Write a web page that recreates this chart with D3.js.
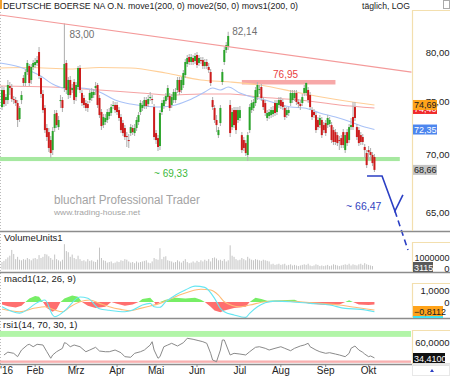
<!DOCTYPE html>
<html><head><meta charset="utf-8">
<script src="https://cdn.jsdelivr.net/npm/d3@7"></script>
<style>body{margin:0;background:#fff}svg{display:block;font-family:"Liberation Sans",Arial,sans-serif}</style>
</head><body><svg id="c" width="450" height="376"></svg>
<script>
// ---------------- DATA ----------------
const openP=[74.49,76.15,75.17,75.17,76.55,76.35,75.27,75.17,74.88,73.34,
75.17,77.35,76.85,77.95,78.56,77.15,78.46,78.66,78.87,80.00,
77.35,75.76,74.40,72.49,72.11,71.37,70.45,72.49,73.92,72.58,
75.07,75.17,76.35,78.87,75.66,77.15,76.15,76.95,75.46,76.45,
78.36,75.86,75.37,74.88,74.78,75.17,75.37,75.66,76.35,76.65,
75.37,74.01,72.77,73.06,73.25,73.63,73.92,74.59,74.69,74.69,
74.20,73.53,72.96,72.49,71.74,71.37,72.02,72.49,72.02,72.49,
73.06,74.01,74.40,74.59,75.17,74.78,75.44,75.27,74.49,72.02,
71.55,70.82,74.01,74.59,75.07,75.46,75.56,74.69,75.17,75.17,
76.15,77.15,76.15,76.65,77.65,78.77,79.48,78.97,79.38,79.07,
79.69,78.87,79.17,79.17,78.56,78.97,78.46,77.95,75.17,74.40,
73.25,71.83,72.96,76.95,78.97,80.21,80.52,74.69,72.58,74.20,
74.20,73.25,73.44,71.83,71.37,71.09,70.00,72.30,74.20,74.40,
74.88,75.46,76.15,76.45,75.17,74.88,73.44,73.63,73.72,73.82,
74.88,74.01,74.69,75.17,74.98,74.40,73.72,73.92,74.88,75.17,
75.37,75.86,74.98,74.78,74.88,75.86,75.86,76.15,75.66,74.20,
74.01,73.72,73.25,72.77,73.25,72.77,72.96,72.77,72.87,72.77,
72.30,72.11,71.83,71.37,71.55,72.11,70.45,72.11,71.37,72.58,
73.53,74.49,72.58,72.30,71.83,71.65,70.73,70.18,70.45,70.27,
70.00,69.82];
const closeP=[76.15,74.78,75.46,76.65,76.35,75.27,75.17,74.88,73.25,74.40,
75.66,76.85,77.95,78.87,76.85,78.46,78.87,78.97,79.17,77.55,
75.76,74.20,72.30,71.65,70.64,70.18,72.21,73.82,72.77,73.25,
75.17,74.40,78.77,76.15,77.15,75.66,76.35,75.17,76.65,78.36,
76.15,74.88,74.69,74.40,74.40,75.86,75.96,75.96,76.55,74.69,
73.72,72.68,73.53,73.44,74.01,74.01,74.49,74.69,74.20,74.01,
73.44,72.30,72.02,71.65,71.65,71.28,72.58,72.11,72.49,73.25,
73.72,74.88,74.69,75.17,74.59,75.27,75.46,75.17,71.65,71.37,
70.73,73.92,74.88,75.17,75.56,76.35,74.40,75.46,75.96,75.96,
77.15,75.96,77.15,77.85,78.97,79.38,78.97,79.48,78.97,79.59,
78.66,79.38,79.07,78.56,78.97,78.56,78.15,76.85,74.49,73.25,
72.77,72.30,74.40,77.95,80.21,80.73,81.68,72.02,74.01,72.77,
72.30,74.20,74.20,70.45,70.64,70.18,71.83,74.49,74.88,74.98,
76.15,76.65,76.25,75.37,74.49,73.92,73.92,74.01,74.20,74.20,
73.92,74.88,75.17,74.59,74.49,73.53,74.20,74.20,75.86,75.86,
75.86,74.98,74.78,74.59,75.46,76.35,76.85,75.17,74.49,73.53,
73.72,72.30,72.58,73.44,71.83,72.30,72.02,73.44,73.25,71.37,
71.19,71.19,71.09,71.28,70.91,70.91,71.83,71.09,72.58,72.77,
72.58,73.44,71.65,71.09,71.19,71.19,70.45,69.09,70.27,70.00,
69.27,68.66];
const highP=[76.55,76.45,75.76,77.15,76.95,76.75,75.56,75.46,75.17,74.59,
76.05,77.65,78.26,79.17,78.77,78.77,79.17,79.38,79.59,80.52,
77.55,76.15,74.69,72.87,72.49,71.74,72.58,74.20,74.20,73.63,
75.66,75.46,83.00,79.17,77.45,77.55,76.75,77.25,76.95,78.56,
78.66,76.15,75.66,75.17,75.07,76.15,76.35,76.25,76.95,76.85,
75.66,74.30,73.82,73.82,74.30,74.40,74.78,75.07,74.98,74.98,
74.49,73.82,73.25,72.77,72.11,71.93,72.87,72.77,72.87,73.53,
74.01,75.17,75.07,75.46,75.46,75.66,75.96,75.66,74.78,72.30,
71.83,74.20,75.17,75.46,75.86,76.65,75.86,75.76,76.25,76.35,
77.45,77.45,77.45,78.15,79.28,79.69,79.79,79.79,79.69,79.90,
80.00,79.69,79.48,79.48,79.28,79.28,78.87,78.26,75.46,74.69,
73.72,72.58,74.69,78.26,80.52,81.04,82.14,75.17,74.40,74.49,
74.49,74.49,74.59,72.11,71.65,71.37,72.11,74.78,75.17,75.27,
76.45,76.95,76.65,76.75,75.46,75.17,74.20,74.30,74.49,74.59,
75.17,75.17,75.46,75.46,75.27,74.69,74.49,74.49,76.15,76.15,
76.15,76.15,75.27,75.17,75.76,76.65,76.95,76.45,75.96,74.49,
74.30,74.01,73.53,73.72,73.53,73.06,73.25,73.72,73.53,73.06,
72.58,72.39,72.11,71.74,71.83,72.39,72.11,72.39,72.87,73.44,
74.98,74.98,72.87,72.58,72.11,71.93,71.00,70.45,70.82,70.64,
70.27,70.09];
const lowP=[74.20,74.49,74.59,74.78,75.66,74.98,74.78,74.59,72.58,73.06,
74.78,76.55,76.55,77.65,76.55,76.75,78.15,78.36,78.56,77.25,
75.37,73.92,72.02,71.28,70.27,69.73,70.00,72.11,72.49,72.30,
74.40,74.01,75.96,75.76,75.27,75.37,75.86,74.78,75.07,76.15,
75.86,74.59,74.40,74.11,74.01,74.88,75.07,75.37,75.66,74.40,
73.44,72.30,72.49,72.77,72.96,73.34,73.63,74.30,73.92,73.72,
73.15,72.02,71.74,71.37,70.73,70.64,71.74,71.83,71.74,72.21,
72.77,73.72,74.11,74.30,74.30,74.49,75.07,74.78,71.37,71.00,
70.36,70.45,73.72,74.30,74.78,75.17,74.11,74.40,74.88,74.88,
75.86,75.66,75.86,76.35,77.35,78.46,78.66,78.66,78.66,78.77,
78.36,78.56,78.77,78.26,78.26,78.26,77.85,76.55,74.20,72.96,
72.11,71.55,72.68,76.65,78.66,79.90,80.21,71.65,72.30,72.49,
71.93,72.96,73.15,70.18,70.36,69.91,69.45,72.02,73.92,74.11,
74.59,75.17,75.76,75.07,74.20,73.63,73.15,73.34,73.44,73.53,
73.63,73.72,74.40,74.30,74.20,73.25,73.44,73.63,74.59,74.88,
75.07,74.69,74.40,74.20,74.59,75.56,75.56,74.88,74.20,73.25,
73.44,72.02,72.30,72.49,71.55,72.02,71.74,72.49,72.58,71.09,
70.91,70.91,70.82,70.45,70.64,70.64,70.18,70.82,71.09,72.30,
72.30,73.15,71.37,70.82,70.91,70.91,69.73,68.82,69.54,69.54,
69.00,68.47];
const volume=[650000,750000,900000,1050000,1200000,1700000,1350000,900000,1100000,850000,
800000,900000,850000,1000000,900000,800000,950000,1000000,900000,1250000,
1000000,1100000,1350000,1300000,1150000,1000000,850000,1300000,900000,800000,
700000,850000,2200000,1600000,1500000,1100000,1300000,1000000,900000,1200000,
900000,750000,800000,700000,900000,750000,800000,700000,650000,850000,
1900000,1000000,800000,750000,600000,650000,700000,550000,600000,700000,
650000,800000,750000,900000,850000,700000,600000,650000,550000,700000,
600000,650000,700000,750000,800000,600000,550000,700000,1000000,900000,
850000,1850000,900000,1100000,1150000,800000,750000,700000,600000,650000,
800000,700000,600000,750000,900000,650000,550000,600000,700000,600000,
750000,650000,800000,700000,850000,750000,900000,700000,1000000,1050000,
950000,800000,850000,750000,900000,700000,800000,2100000,1200000,1100000,
900000,800000,850000,1000000,900000,800000,1100000,950000,850000,800000,
900000,850000,800000,750000,850000,800000,750000,700000,450000,500000,
400000,450000,500000,400000,450000,500000,350000,400000,450000,350000,
400000,350000,300000,350000,400000,450000,400000,500000,350000,300000,
350000,450000,400000,300000,350000,300000,350000,400000,300000,350000,
450000,400000,350000,300000,350000,400000,450000,400000,500000,350000,
450000,400000,350000,450000,500000,400000,550000,450000,400000,350000,
300000,3115];

// moving averages (sampled)
const move1Idx=[-1,14,35,50,66,84,102,117,132,153,173,191];
const move1=[78.36,78.41,78.26,78.41,78.36,77.85,77.15,76.95,76.65,75.86,75.17,74.69];
const move2Idx=[-1,9,19,27,32,40,50,58,66,73,81,89,96,104,108,112,116,122,130,135,140,148,155,163,171,179,186,191];
const move2=[78.87,78.46,77.65,76.65,76.35,76.35,75.96,75.17,74.78,74.59,74.49,74.69,75.17,75.96,76.35,76.15,76.45,75.86,75.37,75.17,74.88,74.49,74.40,73.92,73.53,73.06,72.58,72.35];
const movs1Idx=[-1,25,50,71,86,102,117,132,153,173,191];
const movs1=[76.55,76.45,76.15,75.86,75.66,75.76,75.76,75.46,75.17,74.69,74.40];

// annotations
const trendIdx=[-1,210], trendVal=[83.93,77.94];
const supportBand=[69.45,69.82], supportIdx=[-1,204], supportLabel=69.33;
const resistBand=[76.70,77.15], resistIdx=[123,171], resistLabel=76.95;
const projIdx=[187.2,194.9,201.5,205.6], projVal=[68.12,68.12,65.09,66.47];
const projDashIdx=[201.5,208.2], projDashVal=[65.09,61.88];
const projLabel=66.47;

// MACD (sampled)
const macdIdx=[0,9,19,22,26,27,32,40,44,50,55,63,67,72,76,78,81,84,89,94,99,104,109,112,114,119,125,127,131,135,140,148,158,168,176,184,191];
const macdVal=[-0.39,-0.92,0.03,0.17,-1.08,-1.22,-0.75,0.42,0.31,-0.56,-0.69,-0.81,-0.67,-0.25,-0.11,-0.39,-0.44,0.03,0.58,1.0,1.33,1.22,0.31,-0.53,-0.81,-1.08,-1.28,-0.94,-0.39,-0.06,0.08,0.03,-0.11,-0.25,-0.53,-0.61,-0.81];
const sigIdx=[0,9,17,22,27,31,35,40,45,50,55,61,66,71,76,81,86,91,96,102,107,111,114,122,127,135,143,153,163,173,181,191];
const sigVal=[-0.58,-0.81,-0.5,-0.39,-0.67,-0.81,-0.39,0.03,0.17,-0.11,-0.39,-0.61,-0.72,-0.53,-0.33,-0.11,0.22,0.58,0.86,1.06,1.0,0.58,0.03,-0.39,-0.25,0.03,0.08,0.03,-0.11,-0.25,-0.44,-0.67];
const histIdx=[0,3,7,10,12,14,17,19,21,23,26,28,30,32,36,39,41,44,48,53,56,59,63,67,70,72,76,78,79,81,84,89,94,99,102,104,107,109,112,114,119,125,127,130,133,136,143,150,153,158,166,173,176,178,180,183,188,191];
const histVal=[-0.2,-0.35,-0.45,-0.3,0,0.3,0.5,0.45,0,-0.5,-0.8,-0.6,0,0.3,0.55,0.45,0,-0.3,-0.5,-0.4,0,-0.15,-0.3,-0.2,0,0.25,0.35,0,-0.25,0,0.2,0.35,0.3,0.35,0.2,0,-0.4,-0.7,-0.85,-0.7,-0.5,-0.4,0,0.35,0.25,0.1,0.15,0.2,0,-0.15,-0.25,-0.2,0,0.15,0,-0.2,-0.25,-0.2];
const macdLabel=-0.8112;

// RSI (sampled)
const rsiIdx=[1,3,6,8,10,13,14,16,18,21,23,25,26,28,31,32,33,35,37,40,43,45,48,50,53,55,58,61,63,66,68,71,73,76,77,78,80,81,83,85,87,90,93,95,98,101,103,105,107,108,110,112,113,114,116,117,119,122,125,127,130,132,135,137,140,143,145,148,150,153,155,157,158,161,163,166,168,171,173,176,178,179,181,183,185,186,188,189,191];
const rsiVal=[39.3,44.1,42.1,36.4,47.7,56.2,57.4,53.3,57.4,56.2,44.8,33.7,39.3,44.8,50.6,60.1,59.1,53.3,56.2,53.3,44.8,47.7,52.3,46.0,44.8,44.8,47.7,43.2,36.4,35.4,42.1,44.8,47.7,56.2,61.8,47.7,33.7,36.4,53.3,56.2,59.1,54.5,60.1,67.6,65.9,63.5,61.8,59.1,42.1,30.8,27.9,47.7,64.7,64.7,47.7,39.3,42.1,40.9,39.3,44.8,52.3,53.3,50.6,47.7,50.6,53.3,50.6,46.5,50.6,54.5,56.2,59.1,53.3,47.7,44.8,42.1,43.2,40.9,39.3,36.4,42.1,50.6,54.5,47.7,43.8,40.9,36.4,37.6,34.41];
const rsiUpper=[70,80], rsiLower=[26,30];

// axis ticks
const monthLabels=["'16","Feb","Mrz","Apr","Mai","Jun","Jul","Aug","Sep","Okt"];
const monthIdx=[2,17,38,59,79,100,122,143,166,188];
const priceTicks=[80,75,70,65];
const volTicks=[1000000,0];
const macdTicks=[1,0];
const rsiTicks=[60];

// ---------------- DRAW ----------------
const svg=d3.select("#c");
const N=closeP.length;
const x=d3.scaleLinear().domain([0,191]).range([2,374.45]);
const y=d3.scaleLog().domain([63.43,84.26]).range([231,12]);
const yv=d3.scaleLinear().domain([0,3.3e6]).range([269.5,231.5]);
const ym=d3.scaleLinear().domain([-1.33,2.42]).range([318,273]);
const yr=d3.scaleLinear().domain([24,102]).range([364,318]);
const f2=v=>d3.format(".2f")(v).replace(".",",");
const f4=v=>d3.format(".4f")(v).replace(".",",");
const pairs=(I,V)=>I.map((d,k)=>[d,V[k]]);

// top-left mark, left dotted border
svg.append("rect").attr("x",0).attr("y",0).attr("width",2).attr("height",9).attr("fill","#f0a030");
svg.append("line").attr("x1",0.5).attr("x2",0.5).attr("y1",12).attr("y2",364).attr("stroke","#bbb").attr("stroke-dasharray","1,2");

// watermark
svg.append("text").attr("x",54).attr("y",204).attr("font-size",12.5).attr("fill","#a4a4a4")
  .attr("textLength",146).attr("lengthAdjust","spacingAndGlyphs").text("bluchart Professional Trader");
svg.append("text").attr("x",54).attr("y",215).attr("font-size",8).attr("fill","#a4a4a4")
  .attr("textLength",86).attr("lengthAdjust","spacingAndGlyphs").text("www.trading-house.net");

// bands
svg.append("rect").attr("x",x(supportIdx[0])).attr("width",x(supportIdx[1])-x(supportIdx[0]))
  .attr("y",y(supportBand[1])).attr("height",y(supportBand[0])-y(supportBand[1])).attr("fill","#a6e8a0");
svg.append("rect").attr("x",x(resistIdx[0])).attr("width",x(resistIdx[1])-x(resistIdx[0]))
  .attr("y",y(resistBand[1])).attr("height",y(resistBand[0])-y(resistBand[1])).attr("fill","#f7a8a8");

// moving averages
const lineP=d3.line().x(d=>x(d[0])).y(d=>y(d[1])).curve(d3.curveMonotoneX);
svg.append("path").attr("d",lineP(pairs(move1Idx,move1))).attr("fill","none").attr("stroke","#ffcf98").attr("stroke-width",1.1);
svg.append("path").attr("d",lineP(pairs(movs1Idx,movs1))).attr("fill","none").attr("stroke","#f5a3a3").attr("stroke-width",1.1);
svg.append("path").attr("d",lineP(pairs(move2Idx,move2))).attr("fill","none").attr("stroke","#a9c2f7").attr("stroke-width",1.1);

// candles
const idx=d3.range(N);
svg.append("g").selectAll("line").data(idx).join("line")
  .attr("x1",i=>x(i)).attr("x2",i=>x(i)).attr("y1",i=>y(highP[i])).attr("y2",i=>y(lowP[i]))
  .attr("stroke","#b4b4b4").attr("stroke-width",1.1);
svg.append("g").selectAll("rect").data(idx).join("rect")
  .attr("x",i=>x(i)-1).attr("width",2)
  .attr("y",i=>y(Math.max(openP[i],closeP[i])))
  .attr("height",i=>Math.max(1,Math.abs(y(openP[i])-y(closeP[i]))))
  .attr("fill",i=>closeP[i]>=openP[i]?"#2aa52a":"#cc1c1c");

// trend line
svg.append("path").attr("d",d3.line().x(d=>x(d[0])).y(d=>y(d[1]))(pairs(trendIdx,trendVal)))
  .attr("stroke","#f49a9a").attr("stroke-width",1.1).attr("fill","none");

// projection
svg.append("path").attr("d",d3.line().x(d=>x(d[0])).y(d=>y(d[1]))(pairs(projIdx,projVal)))
  .attr("stroke","#2b3fc4").attr("stroke-width",1.6).attr("fill","none");
svg.append("path").attr("d",d3.line().x(d=>x(d[0])).y(d=>y(d[1]))(pairs(projDashIdx,projDashVal)))
  .attr("stroke","#2b3fc4").attr("stroke-width",1.6).attr("fill","none").attr("stroke-dasharray","6,4");

// annotation labels
const hiIdx=d3.maxIndex(highP.slice(0,60));
svg.append("text").attr("x",x(hiIdx)+5).attr("y",y(highP[hiIdx])+14).attr("font-size",10).attr("fill","#707070").text(f2(highP[hiIdx]));
const hi2=d3.maxIndex(highP.slice(100,130))+100;
svg.append("text").attr("x",x(hi2)+4).attr("y",y(highP[hi2])+3).attr("font-size",10).attr("fill","#707070").text(f2(highP[hi2]));
svg.append("text").attr("x",x(139)).attr("y",y(resistLabel)-4).attr("font-size",10).attr("fill","#e84040").text(f2(resistLabel));
svg.append("text").attr("x",x(78)).attr("y",177).attr("font-size",10).attr("fill","#3cb83c").text("~ "+f2(supportLabel));
svg.append("text").attr("x",346).attr("y",y(projLabel)+15).attr("font-size",10.5).attr("fill","#3344c0").text("~ "+f2(projLabel));

// title
svg.append("text").attr("x",3).attr("y",9).attr("font-size",9.5).attr("fill","#222")
  .attr("textLength",295).attr("lengthAdjust","spacingAndGlyphs")
  .text("DEUTSCHE BOERSE NA O.N. move1(200, 0) move2(50, 0) movs1(200, 0)");
svg.append("text").attr("x",362).attr("y",9).attr("font-size",9.5).attr("fill","#222")
  .attr("textLength",48).attr("lengthAdjust","spacingAndGlyphs").text("täglich, LOG");
svg.append("rect").attr("x",443.5).attr("y",0.5).attr("width",6).attr("height",8).attr("fill","none").attr("stroke","#aaa");

// volume
svg.append("g").selectAll("rect").data(idx).join("rect")
  .attr("x",i=>x(i)-0.5).attr("width",1).attr("y",i=>yv(volume[i])).attr("height",i=>yv(0)-yv(volume[i]))
  .attr("fill","#c4c4c4");
svg.append("text").attr("x",4).attr("y",241).attr("font-size",9.5).attr("fill","#222").text("VolumeUnits1");

// MACD
const defs=svg.append("defs");
defs.append("clipPath").attr("id","cpUp").append("rect").attr("x",0).attr("y",273).attr("width",412).attr("height",ym(0)-273);
defs.append("clipPath").attr("id","cpDn").append("rect").attr("x",0).attr("y",ym(0)).attr("width",412).attr("height",318-ym(0));
const hArea=d3.area().x(d=>x(d[0])).y0(ym(0)).y1(d=>ym(d[1]));
const hp=pairs(histIdx,histVal);
svg.append("path").attr("d",hArea(hp)).attr("fill","#77ee66").attr("clip-path","url(#cpUp)");
svg.append("path").attr("d",hArea(hp)).attr("fill","#ff6f6f").attr("clip-path","url(#cpDn)");
const lineM=d3.line().x(d=>x(d[0])).y(d=>ym(d[1])).curve(d3.curveMonotoneX);
svg.append("path").attr("d",lineM(pairs(sigIdx,sigVal))).attr("fill","none").attr("stroke","#ffbb77").attr("stroke-width",1.1);
svg.append("path").attr("d",lineM(pairs(macdIdx,macdVal))).attr("fill","none").attr("stroke","#66e6f2").attr("stroke-width",1.1);
svg.append("text").attr("x",4).attr("y",282).attr("font-size",9.5).attr("fill","#222").text("macd1(12, 26, 9)");

// RSI
svg.append("rect").attr("x",0).attr("width",411).attr("y",yr(rsiUpper[1])).attr("height",yr(rsiUpper[0])-yr(rsiUpper[1])).attr("fill","#b2f5a8");
svg.append("rect").attr("x",0).attr("width",411).attr("y",yr(rsiLower[1])).attr("height",yr(rsiLower[0])-yr(rsiLower[1])).attr("fill","#f8b0b0");
svg.append("path").attr("d",d3.line().x(d=>x(d[0])).y(d=>yr(d[1]))(pairs(rsiIdx,rsiVal))).attr("fill","none").attr("stroke","#8a8a8a").attr("stroke-width",1);
svg.append("text").attr("x",3).attr("y",328).attr("font-size",9.5).attr("fill","#222").text("rsi1(14, 70, 30, 1)");

// separators
[231.5,272.5,318.5,364.5].forEach(v=>svg.append("line").attr("x1",0).attr("x2",450).attr("y1",v).attr("y2",v).attr("stroke","#8c8c8c").attr("stroke-width",1.3));

// right axis boxes
[[10.5,231],[242.5,272],[283.5,318],[330.5,364]].forEach(b=>{
  svg.append("path").attr("d",`M450,${b[0]}H412.5V${b[1]}`).attr("fill","none").attr("stroke","#f3dfae").attr("stroke-width",1.2);
});
const axT=(txt,xx,yy,opts={})=>svg.append("text").attr("x",xx).attr("y",yy).attr("font-size",opts.fs||9.5).attr("fill",opts.fill||"#222").attr("text-anchor",opts.anchor||"start").text(txt);
priceTicks.forEach(v=>axT(f2(v),449.5,y(v)+3.5,{anchor:"end"}));
const box=(txt,yc,bg,fg,w)=>{svg.append("rect").attr("x",413).attr("y",yc-5).attr("width",w).attr("height",10).attr("fill",bg);
  axT(txt,414,yc+3.5,{fs:9,fill:fg});};
box(f2(movs1[movs1.length-1]),y(move1[move1.length-1])+4,"#f02a2a","#fff",24);
box(f2(move1[move1.length-1]),y(move1[move1.length-1]),"#ffa31a","#222",24);
box(f2(move2[move2.length-1]),y(move2[move2.length-1]),"#4d86ee","#fff",24);
box(f2(closeP[N-1]),y(closeP[N-1]),"#c4c4c4","#222",24);
// volume axis
axT(String(volTicks[0]),449.5,yv(volTicks[0])+3.5,{anchor:"end",fs:9});
axT(String(volTicks[1]),449.5,yv(volTicks[1])+2,{anchor:"end"});
box(String(volume[N-1]),267,"#5a5a5a","#fff",20);
// macd axis
axT("1,0000",449.5,ym(macdTicks[0])+3.5,{anchor:"end"});
axT("0",449.5,ym(macdTicks[1])+3.5,{anchor:"end"});
svg.append("rect").attr("x",413).attr("y",313).attr("width",30).attr("height",5).attr("fill","#44e2f0");
box(f4(macdLabel),311,"#ffa31a","#222",30);
// rsi axis
axT("60,0000",449.5,yr(rsiTicks[0])+3.5,{anchor:"end"});
box(f4(rsiVal[rsiVal.length-1]),358,"#111","#fff",32);

// x axis
monthIdx.forEach((m,k)=>{
  if(k>0) svg.append("line").attr("x1",x(m)).attr("x2",x(m)).attr("y1",364).attr("y2",367).attr("stroke","#888");
  svg.append("text").attr("x",k===0?0:x(m)).attr("y",374).attr("font-size",10).attr("fill","#222")
    .attr("text-anchor",k===0?"start":"middle").text(monthLabels[k]);
});
svg.append("rect").attr("x",412.5).attr("y",364.5).attr("width",37).attr("height",11).attr("fill","none").attr("stroke","#e8e8e8");
svg.append("path").attr("d","M430,372L432,369L434,372Z").attr("fill","#2b3fc4");
</script></body></html>
